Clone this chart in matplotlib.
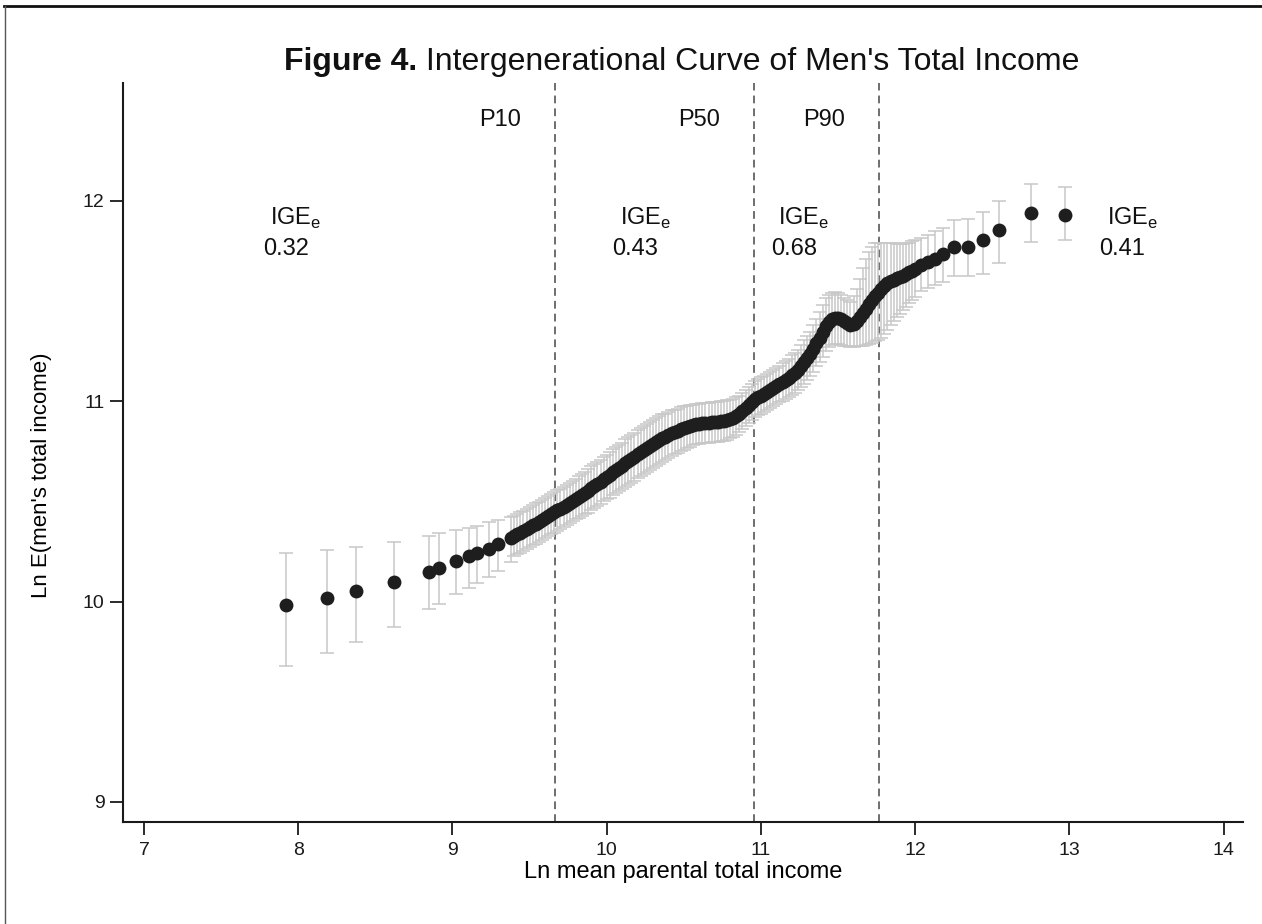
import matplotlib
matplotlib.use("Agg")
import matplotlib.pyplot as plt
from matplotlib.lines import Line2D
import numpy as np

# Ln mean parental total income (x) and Ln E(men's total income) (y),
# with the distance from each point to the lower / upper CI bound
parent_ln = [
    7.923, 8.187, 8.377, 8.619, 8.846, 8.911, 9.026, 9.108, 9.160, 9.235, 9.296, 9.378,
    9.40, 9.42, 9.44, 9.46, 9.48, 9.50, 9.52, 9.54, 9.56, 9.58,
    9.60, 9.62, 9.64, 9.66, 9.68, 9.70, 9.72, 9.74, 9.76, 9.78,
    9.80, 9.82, 9.84, 9.86, 9.88, 9.90, 9.92, 9.94, 9.96, 9.98,
    10.00, 10.02, 10.04, 10.06, 10.08, 10.10, 10.12, 10.14, 10.16, 10.18,
    10.20, 10.22, 10.24, 10.26, 10.28, 10.30, 10.32, 10.34, 10.36, 10.38,
    10.40, 10.42, 10.44, 10.46, 10.48, 10.50, 10.52, 10.54, 10.56, 10.58,
    10.60, 10.62, 10.64, 10.66, 10.68, 10.70, 10.72, 10.74, 10.76, 10.78,
    10.80, 10.82, 10.84, 10.86, 10.88, 10.90, 10.92, 10.94, 10.96, 10.98,
    11.00, 11.02, 11.04, 11.06, 11.08, 11.10, 11.12, 11.14, 11.16, 11.18,
    11.20, 11.22, 11.24, 11.26, 11.28, 11.30, 11.32, 11.34, 11.36, 11.38,
    11.40, 11.42, 11.44, 11.46, 11.48, 11.50, 11.52, 11.54, 11.56, 11.58,
    11.60, 11.62, 11.64, 11.66, 11.68, 11.70, 11.72, 11.74, 11.76, 11.78,
    11.80, 11.82, 11.84, 11.86, 11.88, 11.90, 11.92, 11.94, 11.96, 11.98,
    12.00, 12.04, 12.08, 12.13, 12.18,
    12.253, 12.340, 12.437, 12.545, 12.752, 12.969,
]
child_ln = [
    9.983, 10.019, 10.053, 10.098, 10.149, 10.169, 10.203, 10.228, 10.241, 10.263, 10.286, 10.316,
    10.327, 10.336, 10.345, 10.354, 10.363, 10.372, 10.381, 10.390, 10.399, 10.408,
    10.417, 10.427, 10.436, 10.445, 10.455, 10.464, 10.473, 10.483, 10.493, 10.503,
    10.513, 10.523, 10.533, 10.543, 10.554, 10.565, 10.577, 10.588, 10.599, 10.611,
    10.622, 10.633, 10.645, 10.656, 10.667, 10.679, 10.690, 10.701, 10.713, 10.724,
    10.735, 10.745, 10.756, 10.767, 10.777, 10.788, 10.797, 10.806, 10.815, 10.824,
    10.832, 10.840, 10.847, 10.854, 10.861, 10.867, 10.872, 10.877, 10.881, 10.885,
    10.888, 10.890, 10.892, 10.894, 10.895, 10.897, 10.898, 10.900, 10.902, 10.905,
    10.910, 10.918, 10.928, 10.939, 10.952, 10.966, 10.982, 10.997, 11.010, 11.020,
    11.029, 11.038, 11.047, 11.056, 11.065, 11.075, 11.085, 11.095, 11.106, 11.118,
    11.130, 11.143, 11.158, 11.175, 11.195, 11.216, 11.238, 11.262, 11.289, 11.318,
    11.348, 11.375, 11.398, 11.410, 11.416, 11.416, 11.410, 11.400, 11.390, 11.383,
    11.385, 11.400, 11.420, 11.441, 11.462, 11.484, 11.505, 11.525, 11.543, 11.561,
    11.578, 11.590, 11.600, 11.608, 11.615, 11.621, 11.628, 11.636, 11.644, 11.652,
    11.660, 11.678, 11.695, 11.712, 11.733,
    11.769, 11.769, 11.804, 11.854, 11.939, 11.930,
]
ci_below = [
    0.305, 0.277, 0.256, 0.225, 0.187, 0.182, 0.167, 0.159, 0.150, 0.139, 0.132, 0.120,
    0.100, 0.100, 0.100, 0.100, 0.100, 0.100, 0.100, 0.100, 0.100, 0.100,
    0.100, 0.100, 0.100, 0.100, 0.100, 0.100, 0.100, 0.100, 0.100, 0.100,
    0.100, 0.105, 0.105, 0.105, 0.110, 0.110, 0.110, 0.110, 0.110, 0.110,
    0.110, 0.115, 0.115, 0.115, 0.115, 0.115, 0.120, 0.120, 0.120, 0.120,
    0.120, 0.120, 0.120, 0.120, 0.120, 0.120, 0.120, 0.120, 0.120, 0.115,
    0.115, 0.115, 0.110, 0.110, 0.110, 0.110, 0.105, 0.105, 0.100, 0.100,
    0.100, 0.100, 0.100, 0.100, 0.100, 0.100, 0.100, 0.100, 0.100, 0.100,
    0.095, 0.095, 0.095, 0.090, 0.090, 0.090, 0.090, 0.090, 0.090, 0.090,
    0.090, 0.090, 0.090, 0.090, 0.090, 0.090, 0.090, 0.095, 0.095, 0.095,
    0.100, 0.100, 0.100, 0.105, 0.110, 0.110, 0.110, 0.115, 0.115, 0.120,
    0.125, 0.125, 0.125, 0.130, 0.130, 0.130, 0.127, 0.122, 0.115, 0.113,
    0.112, 0.125, 0.145, 0.163, 0.182, 0.197, 0.212, 0.225, 0.236, 0.243,
    0.243, 0.232, 0.220, 0.208, 0.195, 0.183, 0.173, 0.165, 0.155, 0.147,
    0.140, 0.128, 0.127, 0.132, 0.138,
    0.143, 0.143, 0.170, 0.162, 0.145, 0.125,
]
ci_above = [
    0.258, 0.237, 0.220, 0.201, 0.178, 0.172, 0.154, 0.141, 0.138, 0.133, 0.121, 0.108,
    0.100, 0.100, 0.100, 0.100, 0.100, 0.100, 0.100, 0.100, 0.100, 0.100,
    0.100, 0.100, 0.100, 0.100, 0.100, 0.100, 0.100, 0.100, 0.100, 0.100,
    0.100, 0.105, 0.105, 0.105, 0.110, 0.110, 0.110, 0.110, 0.110, 0.110,
    0.110, 0.115, 0.115, 0.115, 0.115, 0.115, 0.120, 0.120, 0.120, 0.120,
    0.120, 0.120, 0.120, 0.120, 0.120, 0.120, 0.120, 0.120, 0.120, 0.115,
    0.115, 0.115, 0.110, 0.110, 0.110, 0.110, 0.105, 0.105, 0.100, 0.100,
    0.100, 0.100, 0.100, 0.100, 0.100, 0.100, 0.100, 0.100, 0.100, 0.100,
    0.095, 0.095, 0.095, 0.090, 0.090, 0.090, 0.090, 0.090, 0.090, 0.090,
    0.090, 0.090, 0.090, 0.090, 0.090, 0.090, 0.090, 0.095, 0.095, 0.095,
    0.100, 0.100, 0.100, 0.105, 0.110, 0.110, 0.110, 0.120, 0.120, 0.130,
    0.135, 0.140, 0.135, 0.130, 0.128, 0.125, 0.122, 0.118, 0.115, 0.115,
    0.140, 0.160, 0.190, 0.225, 0.248, 0.260, 0.265, 0.265, 0.247, 0.229,
    0.212, 0.200, 0.190, 0.182, 0.170, 0.164, 0.157, 0.153, 0.148, 0.146,
    0.144, 0.137, 0.137, 0.138, 0.134,
    0.136, 0.141, 0.143, 0.146, 0.144, 0.140,
]

# Percentile cut-offs of parental income and the elasticity in each segment
pct_names = ["P10", "P50", "P90"]
pct_values = [9.665, 10.954, 11.765]
ige_values = ["0.32", "0.43", "0.68", "0.41"]
ige_label_x = [7.815, 10.085, 11.108, 13.243]
ige_value_x = [7.770, 10.033, 11.063, 13.191]

x_ticks = [7, 8, 9, 10, 11, 12, 13, 14]
y_ticks = [9, 10, 11, 12]

plt.rcParams['font.family'] = ['Liberation Sans', 'DejaVu Sans']
plt.rcParams['mathtext.fontset'] = 'custom'
plt.rcParams['mathtext.rm'] = 'Liberation Sans'

W, H = 1262, 924
fig = plt.figure(figsize=(W / 100, H / 100), dpi=100)
ax_left, ax_right, ax_top, ax_bottom = 123.3, 1243.0, 83.0, 822.0
ax = fig.add_axes([ax_left / W, 1 - ax_bottom / H,
                   (ax_right - ax_left) / W, (ax_bottom - ax_top) / H])

ax.errorbar(parent_ln, child_ln, yerr=[ci_below, ci_above], fmt='none',
            ecolor='#c8c8c8', elinewidth=1.1, capsize=5, capthick=1.1, zorder=2)
ax.plot(parent_ln, child_ln, 'o', color='#1e1e1e', markersize=10,
        markeredgewidth=0, zorder=3)

for v in pct_values:
    ax.axvline(v, color='#6e6e6e', lw=1.4, ls=(0, (4, 2.6)), zorder=1)

ax.set_xlim(6.866, 14.125)
ax.set_ylim(8.9, 12.589)
ax.set_xticks(x_ticks)
ax.set_yticks(y_ticks)

for side in ('top', 'right'):
    ax.spines[side].set_visible(False)
for side in ('left', 'bottom'):
    ax.spines[side].set_linewidth(1.5)
    ax.spines[side].set_color('#1a1a1a')
ax.tick_params(axis='both', direction='out', length=9.5, width=1.3,
               colors='#1a1a1a', labelsize=14)
ax.tick_params(axis='x', pad=5)
ax.tick_params(axis='y', pad=4)

ax.set_xlabel("Ln mean parental total income", fontsize=17, labelpad=1)
ax.set_ylabel("Ln E(men's total income)", fontsize=16)
ax.yaxis.set_label_coords(-0.064, 0.469)

# Percentile labels sit just left of each dashed line
for name, v in zip(pct_names, pct_values):
    ax.text(v - 0.357, 12.374, name, fontsize=17, ha='center', va='baseline',
            color='#111111')

# Elasticity labels per segment
for lab_x, val_x, val in zip(ige_label_x, ige_value_x, ige_values):
    ax.text(lab_x, 11.880, r"IGE$_\mathrm{e}$", fontsize=17, ha='left',
            va='baseline', color='#111111')
    ax.text(val_x, 11.730, val, fontsize=17, ha='left', va='baseline',
            color='#111111')

# Title: bold figure number followed by the regular caption, centred as a whole
title_bold = fig.text(0, 1 - 70 / H, "Figure 4.", fontsize=23, fontweight='bold',
                      ha='left', va='baseline', color='#111111')
title_rest = fig.text(0, 1 - 70 / H, " Intergenerational Curve of Men's Total Income",
                      fontsize=23, ha='left', va='baseline', color='#111111')
renderer = fig.canvas.get_renderer()
wb = title_bold.get_window_extent(renderer).width
wr = title_rest.get_window_extent(renderer).width
start = 682 - (wb + wr) / 2
title_bold.set_x(start / W)
title_rest.set_x((start + wb) / W)

# Thin frame along the top and left edges of the figure
fig.add_artist(Line2D([4 / W, 1], [1 - 6 / H, 1 - 6 / H], color='#111111', lw=2.0,
                      transform=fig.transFigure))
fig.add_artist(Line2D([5 / W, 5 / W], [0, 1 - 6 / H], color='#555555', lw=1.0,
                      transform=fig.transFigure))

fig.savefig("out.png", dpi=100, facecolor='white')
